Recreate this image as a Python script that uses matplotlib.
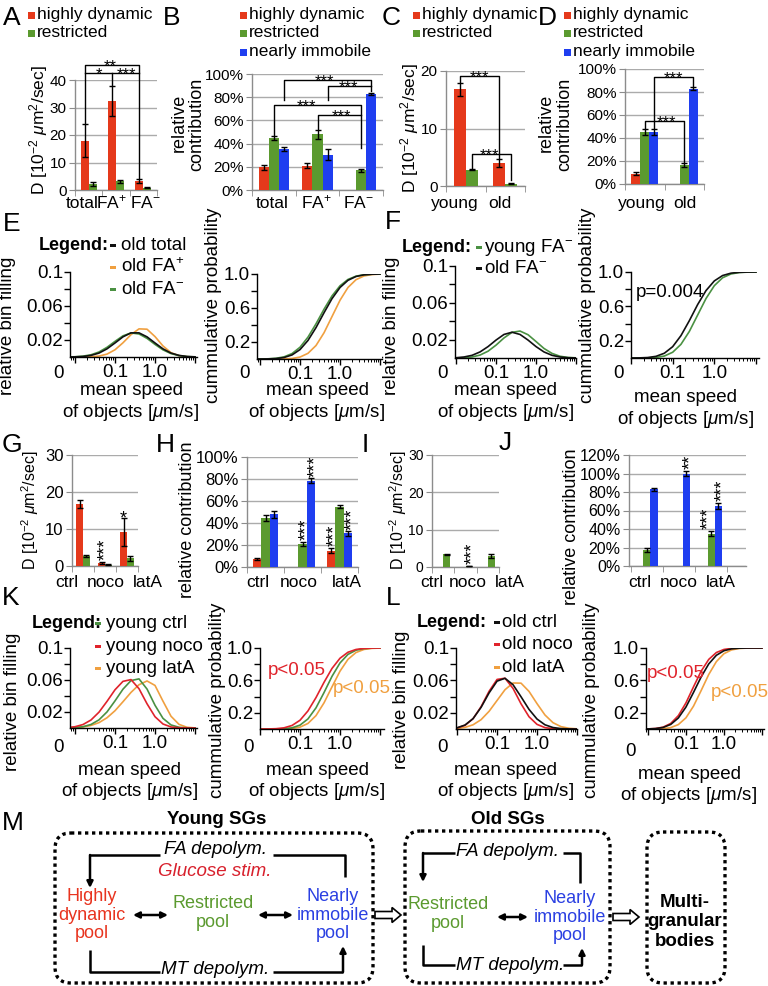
import numpy as np
import matplotlib
matplotlib.use('Agg')
import matplotlib.pyplot as plt
from matplotlib.patches import Rectangle, FancyBboxPatch, FancyArrow
import matplotlib.ticker as mticker

plt.rcParams['font.family'] = ['Liberation Sans', 'DejaVu Sans']
plt.rcParams['mathtext.fontset'] = 'custom'
plt.rcParams['mathtext.rm'] = 'Liberation Sans'
plt.rcParams['mathtext.it'] = 'Liberation Sans:italic'
plt.rcParams['mathtext.bf'] = 'Liberation Sans:bold'

# ---------------- data ----------------
POOLS = ['highly dynamic', 'restricted', 'nearly immobile']

A_CATS = ['total', 'FA$^{+}$', 'FA$^{-}$']
A_DYN = [18.0, 32.5, 3.2]
A_DYN_ERR = [6.0, 5.5, 0.7]
A_RES = [2.3, 3.1, 0.8]
A_RES_ERR = [0.7, 0.5, 0.2]

B_DYN = [19.5, 21.0, 0.0]
B_DYN_ERR = [2.0, 2.3, 0.0]
B_RES = [45.0, 48.0, 17.0]
B_RES_ERR = [1.5, 4.0, 1.5]
B_IMM = [35.5, 30.5, 82.5]
B_IMM_ERR = [2.0, 5.0, 1.0]

AGE_CATS = ['young', 'old']
C_DYN = [16.8, 4.0]
C_DYN_ERR = [1.1, 0.7]
C_RES = [2.8, 0.4]
C_RES_ERR = [0.1, 0.1]

D_DYN = [9.0, 0.0]
D_DYN_ERR = [1.0, 0.0]
D_RES = [45.0, 16.5]
D_RES_ERR = [2.5, 2.0]
D_IMM = [45.5, 83.0]
D_IMM_ERR = [2.5, 1.5]

DRUG_CATS = ['ctrl', 'noco', 'latA']
G_DYN = [16.7, 0.8, 9.2]
G_DYN_ERR = [1.1, 0.3, 3.8]
G_RES = [2.7, 0.4, 2.1]
G_RES_ERR = [0.2, 0.1, 0.7]

H_DYN = [7.0, 0.0, 15.0]
H_DYN_ERR = [1.0, 0.0, 2.0]
H_RES = [44.5, 21.0, 55.0]
H_RES_ERR = [3.0, 2.0, 1.0]
H_IMM = [48.0, 78.5, 30.5]
H_IMM_ERR = [3.0, 2.0, 2.0]

I_DYN = [0.0, 0.0, 0.0]
I_DYN_ERR = [0.0, 0.0, 0.0]
I_RES = [3.4, 0.3, 3.0]
I_RES_ERR = [0.2, 0.1, 0.5]

J_DYN = [0.0, 0.0, 0.0]
J_DYN_ERR = [0.0, 0.0, 0.0]
J_RES = [17.0, 0.0, 35.0]
J_RES_ERR = [2.0, 0.0, 3.0]
J_IMM = [83.0, 100.0, 65.0]
J_IMM_ERR = [1.5, 3.0, 3.0]

SPEED = [0.0063, 0.01, 0.0158, 0.0251, 0.0398, 0.0631, 0.1, 0.158, 0.251,
         0.398, 0.631, 1.0, 1.58, 2.51, 3.98, 6.31, 10.0]

E_PDF_TOTAL = [0.0, 0.0002, 0.0006, 0.0019, 0.0046, 0.0096, 0.0165, 0.0237, 0.0284,
               0.0284, 0.0237, 0.0165, 0.0096, 0.0046, 0.0019, 0.0006, 0.0002]
E_PDF_FAP = [0.0, 0.0, 0.0001, 0.0003, 0.0011, 0.0034, 0.0085, 0.0167, 0.0263,
             0.0331, 0.0327, 0.0240, 0.0130, 0.0051, 0.0015, 0.0003, 0.0]
E_PDF_FAM = [0.0001, 0.0003, 0.0010, 0.0026, 0.0059, 0.0114, 0.0184, 0.0249, 0.0283,
             0.0271, 0.0219, 0.0148, 0.0084, 0.0040, 0.0016, 0.0005, 0.0001]
E_CDF_TOTAL = [0.0001, 0.0003, 0.0013, 0.0052, 0.0174, 0.0478, 0.1109, 0.2183, 0.3696,
               0.5442, 0.7108, 0.8413, 0.9257, 0.9706, 0.9902, 0.9973, 0.9994]
E_CDF_FAP = [0.0, 0.0, 0.0, 0.0002, 0.0013, 0.0062, 0.0228, 0.0668, 0.1587,
             0.3085, 0.5, 0.6915, 0.8413, 0.9332, 0.9772, 0.9938, 0.9987]
E_CDF_FAM = [0.0001, 0.0006, 0.0023, 0.0084, 0.0252, 0.0640, 0.1385, 0.2572, 0.4141,
             0.5859, 0.7428, 0.8615, 0.9360, 0.9748, 0.9916, 0.9977, 0.9994]

F_PDF_YOUNG = [0.0, 0.0001, 0.0003, 0.0011, 0.0032, 0.0074, 0.0140, 0.0218, 0.0279,
               0.0293, 0.0253, 0.0179, 0.0104, 0.0050, 0.0019, 0.0006, 0.0002]
F_PDF_OLD = [0.0001, 0.0003, 0.0011, 0.0029, 0.0066, 0.0124, 0.0195, 0.0256, 0.0280,
             0.0256, 0.0195, 0.0124, 0.0066, 0.0029, 0.0011, 0.0003, 0.0001]
F_CDF_YOUNG = [0.0, 0.0, 0.0002, 0.0013, 0.0062, 0.0228, 0.0668, 0.1587, 0.3085,
               0.5, 0.6915, 0.8413, 0.9332, 0.9772, 0.9938, 0.9987, 0.9998]
F_CDF_OLD = [0.0, 0.0002, 0.0013, 0.0054, 0.0192, 0.0554, 0.1316, 0.2601, 0.4337,
             0.6217, 0.7840, 0.8965, 0.9589, 0.9866, 0.9964, 0.9992, 0.9999]

K_PDF_CTRL = [0.0001, 0.0005, 0.0016, 0.0044, 0.0102, 0.0201, 0.0339, 0.0485, 0.0593,
              0.0614, 0.0487, 0.0284, 0.0121, 0.0038, 0.0009, 0.0001, 0.0]
K_PDF_NOCO = [0.0005, 0.0016, 0.0043, 0.0100, 0.0198, 0.0333, 0.0478, 0.0583, 0.0605,
              0.0491, 0.0303, 0.0141, 0.0050, 0.0013, 0.0003, 0.0, 0.0]
K_PDF_LATA = [0.0002, 0.0005, 0.0013, 0.0032, 0.0067, 0.0128, 0.0216, 0.0328, 0.0445,
              0.0541, 0.0588, 0.0532, 0.0336, 0.0147, 0.0045, 0.0009, 0.0001]
K_CDF_CTRL = [0.0, 0.0, 0.0001, 0.0007, 0.0036, 0.0146, 0.0478, 0.1242, 0.2608,
              0.4490, 0.6499, 0.8152, 0.9207, 0.9728, 0.9926, 0.9984, 0.9997]
K_CDF_NOCO = [0.0, 0.0001, 0.0008, 0.0038, 0.0143, 0.0433, 0.1079, 0.2230, 0.3875,
              0.5755, 0.7476, 0.8735, 0.9473, 0.9819, 0.9949, 0.9989, 0.9998]
K_CDF_LATA = [0.0, 0.0, 0.0, 0.0002, 0.0012, 0.0060, 0.0228, 0.0685, 0.1650,
              0.3222, 0.5204, 0.7136, 0.8593, 0.9441, 0.9822, 0.9955, 0.9991]

L_PDF_CTRL = [0.0004, 0.0015, 0.0049, 0.0128, 0.0267, 0.0445, 0.0591, 0.0626, 0.0547,
              0.0398, 0.0242, 0.0123, 0.0052, 0.0018, 0.0005, 0.0001, 0.0]
L_PDF_NOCO = [0.0003, 0.0013, 0.0045, 0.0127, 0.0275, 0.0465, 0.0612, 0.0627, 0.0501,
              0.0311, 0.0151, 0.0057, 0.0017, 0.0004, 0.0001, 0.0, 0.0]
L_PDF_LATA = [0.0002, 0.0006, 0.0020, 0.0052, 0.0115, 0.0218, 0.0352, 0.0485, 0.0568,
              0.0566, 0.0464, 0.0313, 0.0173, 0.0078, 0.0029, 0.0009, 0.0002]
L_CDF_CTRL = [0.0002, 0.0011, 0.0052, 0.0191, 0.0565, 0.1361, 0.2709, 0.4515, 0.6428,
              0.8034, 0.9100, 0.9663, 0.9897, 0.9975, 0.9995, 1.0, 1.0]
L_CDF_NOCO = [0.0002, 0.0012, 0.0060, 0.0228, 0.0685, 0.1650, 0.3222, 0.5204, 0.7136,
              0.8593, 0.9441, 0.9822, 0.9955, 0.9991, 0.9999, 1.0, 1.0]
L_CDF_LATA = [0.0, 0.0001, 0.0008, 0.0043, 0.0172, 0.0545, 0.1379, 0.2820, 0.4745,
              0.6733, 0.8319, 0.9298, 0.9765, 0.9938, 0.9987, 0.9998, 1.0]

# ---------------- style ----------------
RED = '#e5391b'
GREEN = '#5b9a2f'
BLUE = '#1f3ef0'
C_BLACK = '#111111'
C_ORANGE = '#f0a040'
C_GREEN = '#4a9142'
C_RED = '#e0232b'
GRID = '#ababab'
AXC = '#8c8c8c'

W, H = 768, 986
fig = plt.figure(figsize=(7.68, 9.86), dpi=100)


def add_ax(x0, y0, x1, y1):
    ax = fig.add_axes([x0 / W, 1 - y1 / H, (x1 - x0) / W, (y1 - y0) / H])
    ax.patch.set_alpha(0)
    return ax


def pct(v):
    return '%d%%' % v


def num(v):
    return '%d' % v


def bar_panel(rect, cats, series, errs, colors, width, ylim, yticks, yfmt, xlim=None,
              yfs=12):
    ax = add_ax(*rect)
    n = len(series)
    x = np.arange(len(cats))
    for i, (vals, err, c) in enumerate(zip(series, errs, colors)):
        off = (i - (n - 1) / 2) * width
        vv = np.array(vals, float)
        ev = np.array(err, float)
        ax.bar(x + off, vv, width, color=c, zorder=3, linewidth=0)
        m = ev > 0
        ax.errorbar((x + off)[m], vv[m], yerr=ev[m], fmt='none', ecolor='k',
                    elinewidth=1, capsize=2, capthick=1, zorder=4)
    ax.set_xlim(xlim if xlim else (-0.5, len(cats) - 0.5))
    ax.set_ylim(ylim)
    ax.set_yticks(yticks)
    ax.set_yticklabels([yfmt(v) for v in yticks])
    ax.grid(axis='y', color=GRID, lw=1)
    ax.set_axisbelow(True)
    for s in ['top', 'right']:
        ax.spines[s].set_visible(False)
    for s in ['left', 'bottom']:
        ax.spines[s].set_color(AXC)
        ax.spines[s].set_linewidth(1)
    ax.set_xticks(x)
    ax.set_xticklabels([''] * len(cats))
    ax.set_xticks(np.arange(len(cats) + 1) - 0.5, minor=True)
    ax.tick_params(axis='x', which='major', length=0)
    ax.tick_params(axis='x', which='minor', length=4, color=AXC)
    ax.tick_params(axis='y', length=4, color=AXC, labelsize=yfs, pad=2)
    return ax


def bracket(ax, pts):
    xs, ys = zip(*pts)
    ax.plot(xs, ys, color='k', lw=1, clip_on=False, zorder=5)


def stars(ax, x, y, s, fs=12):
    ax.annotate(s, (x, y), xytext=(0, -4.5), textcoords='offset points', ha='center',
                va='baseline', fontsize=fs, annotation_clip=False)


def vstars(ax, x, y, s, fs=13):
    ax.annotate(s, (x, y), xytext=(3, 1), textcoords='offset points', ha='center',
                va='bottom', rotation=90, fontsize=fs, annotation_clip=False)


def curve_panel(rect, xlim, ylim, yticks, ylabels, curves):
    ax = add_ax(*rect)
    for ys, c in curves:
        ax.plot(SPEED, ys, color=c, lw=1.2)
    ax.set_xscale('log')
    ax.set_xlim(xlim)
    ax.set_ylim(ylim)
    for s in ['top', 'right']:
        ax.spines[s].set_visible(False)
    for s in ['left', 'bottom']:
        ax.spines[s].set_linewidth(1)
    ax.set_xticks([0.01, 0.1, 1.0, 10.0])
    ax.set_xticklabels(['', '0.1', '1.0', ''])
    ax.xaxis.set_minor_locator(mticker.LogLocator(base=10, subs=np.arange(2, 10), numticks=20))
    ax.xaxis.set_minor_formatter(mticker.NullFormatter())
    ax.tick_params(axis='x', which='major', length=4, width=1, labelsize=13.5, pad=1)
    ax.tick_params(axis='x', which='minor', length=2.5, width=0.7)
    ax.set_yticks(yticks)
    ax.set_yticklabels(ylabels)
    ax.tick_params(axis='y', length=4, width=1, labelsize=13.5, pad=1)
    return ax


PDF_TICKS = [0.02, 0.04, 0.06, 0.08, 0.1]
PDF_LABELS = ['0.02', '', '0.06', '', '0.1']
CDF_TICKS = [0.2, 0.4, 0.6, 0.8, 1.0]
CDF_LABELS = ['0.2', '', '0.6', '', '1.0']

# ---------------- bar panels ----------------
axA = bar_panel((75, 80, 157, 190), A_CATS, [A_DYN, A_RES], [A_DYN_ERR, A_RES_ERR],
                [RED, GREEN], 0.29, (0, 40), [0, 10, 20, 30, 40], num, yfs=11)
bracket(axA, [(-0.145, 24.3), (-0.145, 45.5), (1.855, 45.5), (1.855, 4.2)])
bracket(axA, [(-0.145, 42.5), (1.855, 42.5)])
bracket(axA, [(0.855, 42.5), (0.855, 38.3)])
stars(axA, 0.8, 45.5, '**')
stars(axA, 0.38, 42.5, '*')
stars(axA, 1.4, 42.5, '***')

axB = bar_panel((252, 74, 383, 190), A_CATS, [B_DYN, B_RES, B_IMM],
                [B_DYN_ERR, B_RES_ERR, B_IMM_ERR], [RED, GREEN, BLUE], 0.23,
                (0, 100), [0, 20, 40, 60, 80, 100], pct, yfs=11)
bracket(axB, [(0.23, 77.6), (0.23, 94.8), (2.23, 94.8), (2.23, 85)])
bracket(axB, [(1.23, 77.6), (1.23, 89.7), (2.23, 89.7)])
bracket(axB, [(0, 47.5), (0, 73.3), (2, 73.3), (2, 36)])
bracket(axB, [(1, 53), (1, 64.7), (2, 64.7)])
stars(axB, 1.17, 94.8, '***')
stars(axB, 1.7, 89.7, '***')
stars(axB, 0.75, 73.3, '***')
stars(axB, 1.55, 64.7, '***')

axC = bar_panel((446, 71, 525, 186), AGE_CATS, [C_DYN, C_RES], [C_DYN_ERR, C_RES_ERR],
                [RED, GREEN], 0.3, (0, 20), [0, 10, 20], num, yfs=11)
bracket(axC, [(-0.15, 18.1), (-0.15, 19.1), (0.85, 19.1), (0.85, 4.9)])
bracket(axC, [(0.15, 3.1), (0.15, 5.6), (1.15, 5.6), (1.15, 1.0)])
stars(axC, 0.35, 19.1, '***')
stars(axC, 0.6, 5.6, '***')

axD = bar_panel((625, 69, 704, 184), AGE_CATS, [D_DYN, D_RES, D_IMM],
                [D_DYN_ERR, D_RES_ERR, D_IMM_ERR], [RED, GREEN, BLUE], 0.23,
                (0, 100), [0, 20, 40, 60, 80, 100], pct, yfs=11)
bracket(axD, [(0.23, 49), (0.23, 93), (1.23, 93), (1.23, 85.5)])
bracket(axD, [(0, 48.5), (0, 54.8), (1, 54.8), (1, 19)])
stars(axD, 0.73, 93, '***')
stars(axD, 0.55, 54.8, '***')

axG = bar_panel((72, 455, 138, 566), DRUG_CATS, [G_DYN, G_RES], [G_DYN_ERR, G_RES_ERR],
                [RED, GREEN], 0.3, (0, 30), [0, 10, 20, 30], num, yfs=12)
vstars(axG, 0.85, 1.3, '***')
stars(axG, 1.85, 13.3, '*', fs=13)

axH = bar_panel((247, 457, 358, 567), DRUG_CATS, [H_DYN, H_RES, H_IMM],
                [H_DYN_ERR, H_RES_ERR, H_IMM_ERR], [RED, GREEN, BLUE], 0.23,
                (0, 100), [0, 20, 40, 60, 80, 100], pct, yfs=12)
vstars(axH, 1.0, 23.5, '***')
vstars(axH, 1.23, 80.5, '***')
vstars(axH, 1.77, 17.5, '***')
vstars(axH, 2.23, 32.5, '***')

axI = bar_panel((432, 455, 499, 567), DRUG_CATS, [I_DYN, I_RES], [I_DYN_ERR, I_RES_ERR],
                [RED, GREEN], 0.3, (0, 30), [0, 10, 20, 30], num, yfs=10)
vstars(axI, 1.15, 0.5, '***')

axJ = bar_panel((629, 455, 746, 566), DRUG_CATS, [J_DYN, J_RES, J_IMM],
                [J_DYN_ERR, J_RES_ERR, J_IMM_ERR], [RED, GREEN, BLUE], 0.22,
                (0, 120), [0, 20, 40, 60, 80, 100, 120], pct, xlim=(-0.56, 3.09),
                yfs=11.5)
vstars(axJ, 1.22, 103.5, '**')
vstars(axJ, 1.78, 38.5, '***')
vstars(axJ, 2.22, 68.5, '***')

# ---------------- curve panels ----------------
curve_panel((70, 272, 197, 357), (0.0075, 11.2), (0, 0.1), PDF_TICKS, PDF_LABELS,
            [(E_PDF_FAP, C_ORANGE), (E_PDF_FAM, C_GREEN), (E_PDF_TOTAL, C_BLACK)])
curve_panel((257, 274, 382, 359), (0.0084, 11.2), (0, 1), CDF_TICKS, CDF_LABELS,
            [(E_CDF_FAP, C_ORANGE), (E_CDF_FAM, C_GREEN), (E_CDF_TOTAL, C_BLACK)])
curve_panel((455, 266, 576, 358), (0.0094, 10.0), (0, 0.1), PDF_TICKS, PDF_LABELS,
            [(F_PDF_YOUNG, C_GREEN), (F_PDF_OLD, C_BLACK)])
curve_panel((631, 272, 759, 358), (0.0106, 11.8), (0, 1), CDF_TICKS, CDF_LABELS,
            [(F_CDF_YOUNG, C_GREEN), (F_CDF_OLD, C_BLACK)])
curve_panel((70, 648, 197, 728), (0.0075, 11.2), (0, 0.1), PDF_TICKS, PDF_LABELS,
            [(K_PDF_LATA, C_ORANGE), (K_PDF_CTRL, C_GREEN), (K_PDF_NOCO, C_RED)])
curve_panel((260, 648, 384, 729), (0.01, 12.6), (0, 1), CDF_TICKS, CDF_LABELS,
            [(K_CDF_LATA, C_ORANGE), (K_CDF_CTRL, C_GREEN), (K_CDF_NOCO, C_RED)])
curve_panel((456, 648, 577, 729), (0.0094, 10.0), (0, 0.1), PDF_TICKS, PDF_LABELS,
            [(L_PDF_LATA, C_ORANGE), (L_PDF_NOCO, C_RED), (L_PDF_CTRL, C_BLACK)])
curve_panel((646, 648, 764, 729), (0.0089, 11.3), (0, 1), CDF_TICKS, CDF_LABELS,
            [(L_CDF_LATA, C_ORANGE), (L_CDF_NOCO, C_RED), (L_CDF_CTRL, C_BLACK)])

# ---------------- overlay (texts, legends, diagram) ----------------
ov = fig.add_axes([0, 0, 1, 1])
ov.set_xlim(0, W)
ov.set_ylim(H, 0)
ov.axis('off')
ov.patch.set_alpha(0)


def T(x, y, s, fs=13, ha='left', va='baseline', **kw):
    ov.text(x, y, s, fontsize=fs, ha=ha, va=va, **kw)


# panel letters
for lab, x, y in [('A', 3, 25), ('B', 163, 25), ('C', 382, 25), ('D', 538, 25),
                  ('E', 3, 231), ('F', 385, 229), ('G', 2, 452), ('H', 156, 452),
                  ('I', 362, 452), ('J', 499, 450), ('K', 2, 605), ('L', 386, 605),
                  ('M', 2, 830)]:
    T(x, y, lab, fs=19)

# category labels of the bar panels
for cats, xs, yb in [(A_CATS, [82, 111, 145], 208), (A_CATS, [272, 316, 358], 208),
                     (AGE_CATS, [455, 500], 208), (AGE_CATS, [642, 685], 208),
                     (DRUG_CATS, [67, 106, 148], 587), (DRUG_CATS, [258, 299, 347], 587),
                     (DRUG_CATS, [432, 468, 510], 587), (DRUG_CATS, [640, 679, 721], 587)]:
    for c, x in zip(cats, xs):
        T(x, yb, c, fs=12.5, ha='center')


def sq_legend(xsq, xt, bases, labels, colors):
    for yb, lab, c in zip(bases, labels, colors):
        ov.add_patch(Rectangle((xsq, yb - 7.5), 7, 7, color=c, lw=0))
        T(xt, yb, lab, fs=12.5)


sq_legend(28, 37, [19, 37], POOLS[:2], [RED, GREEN])
sq_legend(240, 249, [19, 37, 56], POOLS, [RED, GREEN, BLUE])
sq_legend(413, 422, [19, 37], POOLS[:2], [RED, GREEN])
sq_legend(564, 573, [19, 37, 56], POOLS, [RED, GREEN, BLUE])


def line_legend(xl, xm, xt, bases, labels, colors):
    T(xl, bases[0], 'Legend:', fs=13, fontweight='bold')
    for yb, lab, c in zip(bases, labels, colors):
        ov.add_patch(Rectangle((xm, yb - 6.5), 6, 3, color=c, lw=0))
        T(xt, yb, lab, fs=13.5)


line_legend(39, 110, 121, [250, 272, 294],
            ['old total', 'old FA$^{+}$', 'old FA$^{-}$'], [C_BLACK, C_ORANGE, C_GREEN])
line_legend(402, 476, 484, [252, 273],
            ['young FA$^{-}$', 'old FA$^{-}$'], [C_GREEN, C_BLACK])
line_legend(32, 95, 106, [628, 651, 673],
            ['young ctrl', 'young noco', 'young latA'], [C_GREEN, C_RED, C_ORANGE])
line_legend(417, 494, 502, [627, 649, 672],
            ['old ctrl', 'old noco', 'old latA'], [C_BLACK, C_RED, C_ORANGE])

# y labels of bar panels
DLAB = r'D [10$^{-2}$ $\mu$m$^{2}$/sec]'
T(39, 130, DLAB, fs=12.5, ha='center', va='center', rotation=90)
T(410, 128, DLAB, fs=12.5, ha='center', va='center', rotation=90)
T(30, 510, DLAB, fs=11.5, ha='center', va='center', rotation=90)
T(398, 510, DLAB, fs=11.5, ha='center', va='center', rotation=90)
T(179, 123, 'relative', fs=13, ha='center', va='center', rotation=90)
T(197, 124, 'contribution', fs=13, ha='center', va='center', rotation=90)
T(546, 123, 'relative', fs=13, ha='center', va='center', rotation=90)
T(565, 124, 'contribution', fs=13, ha='center', va='center', rotation=90)
T(187, 520, 'relative contribution', fs=13, ha='center', va='center', rotation=90)
T(572, 527, 'relative contribution', fs=13, ha='center', va='center', rotation=90)

# y labels of curve panels
for x, y in [(8, 326), (391, 326), (13, 702), (402, 700)]:
    T(x, y, 'relative bin filling', fs=13.5, ha='center', va='center', rotation=90)
for x, y in [(214, 305), (588, 305), (218, 700), (591, 700)]:
    T(x, y, 'cummulative probability', fs=13.5, ha='center', va='center', rotation=90)

# x labels of curve panels
MS = 'mean speed'
OO = r'of objects [$\mu$m/s]'
for x, y1, y2 in [(131, 395, 417), (317, 395, 417), (506, 395, 417), (686, 402, 424),
                  (130, 775, 796), (317, 775, 796), (506, 775, 796), (689, 779, 800)]:
    T(x, y1, MS, fs=13.5, ha='center')
    T(x, y2, OO, fs=13.5, ha='center')

# '0' labels at the axes origins
for x, y in [(59, 378), (245, 378), (443, 378), (618, 378),
             (59, 752), (249, 752), (443, 752), (631, 756)]:
    T(x, y, '0', fs=13.5, ha='center')

# p values
T(636, 297, 'p=0.004', fs=13.5)
T(268, 675, 'p<0.05', fs=13.5, color=C_RED)
T(333, 693, 'p<0.05', fs=13.5, color=C_ORANGE)
T(647, 678, 'p<0.05', fs=13.5, color=C_RED)
T(711, 697, 'p<0.05', fs=13.5, color=C_ORANGE)

# ---------------- panel M diagram ----------------
MRED = '#e8341f'
MGREEN = '#5b9a2f'
MBLUE = '#2b40e2'


def dbox(x0, y0, x1, y1):
    ov.add_patch(FancyBboxPatch((x0, y0), x1 - x0, y1 - y0,
                                boxstyle='round,pad=0,rounding_size=16',
                                fc='none', ec='k', lw=2.4, ls=(0, (1, 1.1))))


def poly(pts):
    xs, ys = zip(*pts)
    ov.plot(xs, ys, color='k', lw=1.8, solid_capstyle='butt')


def arrow(p0, p1, style='-|>'):
    ov.annotate('', xy=p1, xytext=p0,
                arrowprops=dict(arrowstyle=style, color='k', lw=1.8,
                                mutation_scale=9, shrinkA=0, shrinkB=0))


def hollow(x0, x1, y):
    ov.add_patch(FancyArrow(x0, y, x1 - x0, 0, width=7, head_width=15, head_length=9,
                            length_includes_head=True, fc='white', ec='k', lw=1.2))


dbox(55, 833, 373, 983)
dbox(405, 831, 610, 983)
dbox(647, 832, 725, 983)

T(217, 820, 'Young SGs', fs=13.5, ha='center', va='center', fontweight='bold')
T(508, 820, 'Old SGs', fs=13.5, ha='center', va='center', fontweight='bold')

T(215, 850, 'FA depolym.', fs=13.5, ha='center', va='center', style='italic')
T(215, 871, 'Glucose stim.', fs=13.5, ha='center', va='center', style='italic', color='#d8202c')
T(215, 970, 'MT depolym.', fs=13.5, ha='center', va='center', style='italic')
T(92, 915, 'Highly\ndynamic\npool', fs=13, ha='center', va='center', color=MRED, linespacing=1.15)
T(213, 913, 'Restricted\npool', fs=13, ha='center', va='center', color=MGREEN, linespacing=1.15)
T(333, 915, 'Nearly\nimmobile\npool', fs=13, ha='center', va='center', color=MBLUE, linespacing=1.15)

poly([(160, 855), (90, 855)])
arrow((90, 855), (90, 888))
poly([(273, 855), (345, 855), (345, 877)])
poly([(90, 950), (90, 972), (160, 972)])
poly([(273, 972), (343, 972)])
arrow((343, 972), (343, 946))
arrow((133, 915), (168, 915), '<|-|>')
arrow((258, 915), (293, 915), '<|-|>')

T(508, 852, 'FA depolym.', fs=13.5, ha='center', va='center', style='italic')
T(510, 965, 'MT depolym.', fs=13.5, ha='center', va='center', style='italic')
T(448, 914, 'Restricted\npool', fs=13, ha='center', va='center', color=MGREEN, linespacing=1.15)
T(570, 917, 'Nearly\nimmobile\npool', fs=13, ha='center', va='center', color=MBLUE, linespacing=1.15)

poly([(455, 853), (423, 853)])
arrow((423, 853), (423, 882))
poly([(563, 853), (580, 853), (580, 883)])
poly([(423, 945), (423, 965), (455, 965)])
poly([(563, 965), (582, 965)])
arrow((582, 965), (582, 948))
arrow((497, 917), (528, 917), '<|-|>')

T(685, 922, 'Multi-\ngranular\nbodies', fs=13.5, ha='center', va='center',
  fontweight='bold', linespacing=1.2)

hollow(375, 401, 915)
hollow(613, 639, 917)

fig.savefig('out.png', dpi=100)
